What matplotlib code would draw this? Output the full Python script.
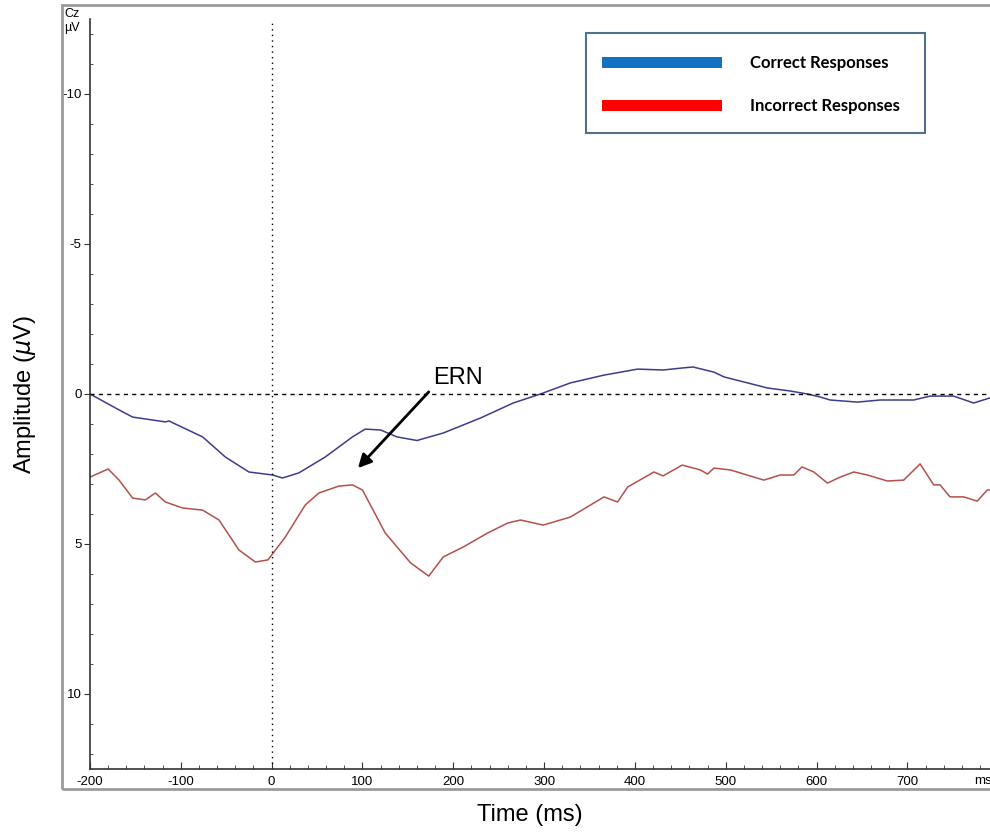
import matplotlib.pyplot as plt
from matplotlib.patches import Rectangle
from matplotlib.ticker import MultipleLocator

# Cz grand average (ms, microvolts; negative plotted up)
t_correct = [-200, -168, -153, -117, -113, -76, -51, -25, 1, 12, 30, 59, 89, 103, 120,
             138, 160, 189, 230, 266, 296, 329, 366, 403, 431, 453, 464, 487, 498, 524,
             546, 571, 590, 604, 615, 645, 670, 707, 725, 751, 773, 791]
v_correct = [0, 0.53, 0.77, 0.93, 0.9, 1.43, 2.1, 2.6, 2.7, 2.8, 2.63, 2.1, 1.43, 1.17, 1.2,
             1.43, 1.55, 1.3, 0.8, 0.3, 0, -0.37, -0.63, -0.83, -0.8, -0.87, -0.9, -0.73, -0.57, -0.37,
             -0.2, -0.1, 0, 0.1, 0.2, 0.27, 0.2, 0.2, 0.07, 0.07, 0.3, 0.13]

t_incorrect = [-200, -180, -168, -153, -139, -128, -117, -98, -76, -58, -36, -18, -4, 15, 37,
               52, 74, 89, 100, 125, 153, 173, 189, 211, 238, 260, 274, 299, 329, 366,
               381, 392, 421, 431, 452, 472, 480, 487, 505, 542, 560, 575, 584, 597, 612,
               626, 641, 656, 678, 696, 714, 729, 736, 747, 762, 777, 788, 791]
v_incorrect = [2.77, 2.5, 2.87, 3.47, 3.53, 3.3, 3.6, 3.8, 3.87, 4.2, 5.2, 5.6, 5.53, 4.77, 3.7,
               3.3, 3.07, 3.03, 3.2, 4.63, 5.63, 6.07, 5.43, 5.1, 4.63, 4.3, 4.2, 4.37, 4.1, 3.43,
               3.6, 3.1, 2.6, 2.73, 2.37, 2.53, 2.67, 2.47, 2.53, 2.87, 2.7, 2.7, 2.43, 2.6, 2.97,
               2.77, 2.6, 2.7, 2.9, 2.87, 2.33, 3.03, 3.03, 3.43, 3.43, 3.57, 3.2, 3.2]

x_ticks = [-200, -100, 0, 100, 200, 300, 400, 500, 600, 700]
y_ticks = [-10, -5, 0, 5, 10]

ern_tip = (95, 2.47)
ern_tail = (173, -0.07)
ern_label = (178, -0.17)

plt.rcParams['font.family'] = ['Liberation Sans', 'DejaVu Sans']

fig = plt.figure(figsize=(9.9, 8.32), dpi=100)
W, H = 990, 832
ax = fig.add_axes([90 / W, 63 / H, 900 / W, 750 / H])

ax.plot(t_correct, v_correct, color='#3c3c8e', lw=1.1)
ax.plot(t_incorrect, v_incorrect, color='#b3504c', lw=1.1)
ax.axhline(0, color='black', lw=1, linestyle=(0, (3, 3)))
ax.axvline(0, color='black', lw=1, linestyle=(0, (1, 3)))

ax.set_xlim(-200, 791)
ax.set_ylim(12.5, -12.5)

for s in ['top', 'right']:
    ax.spines[s].set_visible(False)
for s in ['left', 'bottom']:
    ax.spines[s].set_color('#333333')
    ax.spines[s].set_linewidth(1.2)

ax.set_xticks(x_ticks)
ax.set_xticklabels([str(v) for v in x_ticks])
ax.xaxis.set_minor_locator(MultipleLocator(20))
ax.set_yticks(y_ticks)
ax.set_yticklabels([str(v) for v in y_ticks])
ax.yaxis.set_minor_locator(MultipleLocator(1))
ax.tick_params(axis='x', which='major', direction='in', length=5, labelsize=9.5, pad=5, color='#333333')
ax.tick_params(axis='x', which='minor', direction='in', length=3, color='#333333')
ax.tick_params(axis='y', which='major', direction='out', length=4, labelsize=9.5, pad=2, color='#333333')
ax.tick_params(axis='y', which='minor', direction='in', length=2, color='#333333')
ax.text(783, 12.9, 'ms', fontsize=9.5, ha='center', va='center', clip_on=False)

ax.annotate('', xy=ern_tip, xytext=ern_tail,
            arrowprops=dict(arrowstyle='-|>', color='black', lw=2, mutation_scale=20,
                            shrinkA=0, shrinkB=0))
ax.text(ern_label[0], ern_label[1], 'ERN', fontsize=17, ha='left', va='bottom')

# outer frame of the exported EEG window
fig.patches.append(Rectangle((62 / W, (H - 789) / H), 940 / W, 784 / H,
                             transform=fig.transFigure, fill=False,
                             edgecolor='#9a9a9a', lw=2))
fig.text(64 / W, 1 - 14 / H, 'Cz', fontsize=9, va='center')
fig.text(64 / W, 1 - 28 / H, 'µV', fontsize=9, va='center')

# legend box
fig.patches.append(Rectangle((586 / W, 1 - 133 / H), 339 / W, 100 / H,
                             transform=fig.transFigure, facecolor='white',
                             edgecolor='#50708e', lw=1.5))
fig.patches.append(Rectangle((602 / W, 1 - 68 / H), 120 / W, 11 / H,
                             transform=fig.transFigure, color='#1470c0', lw=0))
fig.patches.append(Rectangle((602 / W, 1 - 111 / H), 120 / W, 11 / H,
                             transform=fig.transFigure, color='#ff0000', lw=0))
fig.text(750 / W, 1 - 63 / H, 'Correct Responses', fontsize=12, fontweight='bold',
         family=['Lato', 'DejaVu Sans'], va='center')
fig.text(750 / W, 1 - 106 / H, 'Incorrect Responses', fontsize=12, fontweight='bold',
         family=['Lato', 'DejaVu Sans'], va='center')

fig.text(530 / W, 1 - 815 / H, 'Time (ms)', fontsize=17, ha='center', va='center')
fig.text(25 / W, 1 - 395 / H, r'Amplitude ($\mu$V)', fontsize=17, rotation=90,
         ha='center', va='center')

fig.savefig('out.png', dpi=100)
